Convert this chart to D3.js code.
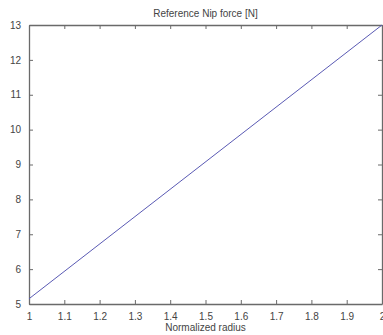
<!DOCTYPE html>
<html>
<head>
<meta charset="utf-8">
<script src="https://cdn.jsdelivr.net/npm/d3@7"></script>
<style>
  html, body { margin: 0; padding: 0; background: #fff; }
  svg { display: block; font-family: "Liberation Sans", Arial, sans-serif; }
</style>
</head>
<body>
<svg id="chart" width="383" height="335"></svg>
<script>
// Nip force against normalized radius
const radius = [1, 2];
const nipForce = [5.15, 13];
const xTicks = [1, 1.1, 1.2, 1.3, 1.4, 1.5, 1.6, 1.7, 1.8, 1.9, 2];
const yTicks = [5, 6, 7, 8, 9, 10, 11, 12, 13];
const titleText = "Reference Nip force [N]";
const xLabelText = "Normalized radius";

const svg = d3.select("#chart");
const plot = { left: 29, right: 382, top: 25, bottom: 304 };

const x = d3.scaleLinear().domain([1, 2]).range([plot.left, plot.right]);
const y = d3.scaleLinear().domain([5, 13]).range([plot.bottom, plot.top]);

const axisColor = "#6a6a6a";
const textColor = "#444";

// frame with inward ticks on all four sides
const g = svg.append("g");
const fmt = d3.format("");

const axB = g.append("g").attr("transform", `translate(0,${plot.bottom})`)
  .call(d3.axisBottom(x).tickValues(xTicks).tickFormat(fmt).tickSizeInner(-4).tickSizeOuter(0).tickPadding(9));
const axT = g.append("g").attr("transform", `translate(0,${plot.top})`)
  .call(d3.axisTop(x).tickValues(xTicks).tickFormat("").tickSizeInner(-4).tickSizeOuter(0));
const axL = g.append("g").attr("transform", `translate(${plot.left},0)`)
  .call(d3.axisLeft(y).tickValues(yTicks).tickFormat(fmt).tickSizeInner(-4).tickSizeOuter(0).tickPadding(8));
const axR = g.append("g").attr("transform", `translate(${plot.right},0)`)
  .call(d3.axisRight(y).tickValues(yTicks).tickFormat("").tickSizeInner(-4).tickSizeOuter(0));

[axB, axT, axL, axR].forEach(a => {
  a.select(".domain").attr("stroke", axisColor).attr("stroke-width", 1.3);
  a.selectAll(".tick line").attr("stroke", axisColor);
  a.selectAll("text").attr("fill", textColor).attr("font-size", 10)
    .attr("font-family", "'Liberation Sans', Arial, sans-serif");
});

// data line
const line = d3.line().x((d, i) => x(radius[i])).y(d => y(d));
svg.append("path")
  .datum(nipForce)
  .attr("d", line)
  .attr("fill", "none")
  .attr("stroke", "#5a5ab4")
  .attr("stroke-width", 1);

// title and axis label
svg.append("text")
  .attr("x", (plot.left + plot.right) / 2)
  .attr("y", 17)
  .attr("text-anchor", "middle")
  .attr("font-size", 10)
  .attr("fill", textColor)
  .text(titleText);

svg.append("text")
  .attr("x", (plot.left + plot.right) / 2)
  .attr("y", 331)
  .attr("text-anchor", "middle")
  .attr("font-size", 10)
  .attr("fill", textColor)
  .text(xLabelText);
</script>
</body>
</html>
